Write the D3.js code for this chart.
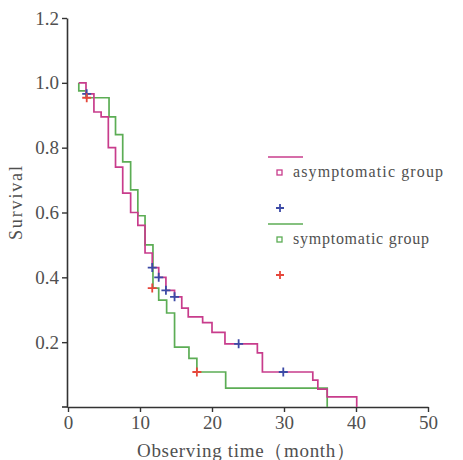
<!DOCTYPE html>
<html>
<head>
<meta charset="utf-8">
<script src="https://cdn.jsdelivr.net/npm/d3@7"></script>
<style>
  body { margin: 0; background: #fff; }
  svg text { font-family: "Liberation Serif", "DejaVu Serif", serif; fill: #505050; }
</style>
</head>
<body>
<svg id="chart" width="463" height="460"></svg>
<script>
// Kaplan-Meier steps (time in months, survival)
const asymTimes = [1.5, 2.5, 3.6, 4.6, 5.6, 6.6, 7.6, 8.7, 9.7, 10.7, 11.7, 12.6, 13.6, 14.8, 15.8, 16.7, 18.7, 20.0, 21.8, 26.3, 27.0, 34.0, 34.7, 36.0, 40.1];
const asymSurv  = [1.0, 0.966, 0.91, 0.895, 0.80, 0.74, 0.66, 0.60, 0.56, 0.475, 0.43, 0.40, 0.36, 0.34, 0.305, 0.278, 0.26, 0.23, 0.195, 0.167, 0.108, 0.083, 0.055, 0.031, 0];
const symTimes  = [1.5, 1.5, 2.5, 5.7, 6.6, 7.6, 8.7, 9.7, 10.7, 11.8, 12.6, 13.7, 14.8, 16.8, 17.9, 21.9, 36.0];
const symSurv   = [1.0, 0.975, 0.954, 0.895, 0.84, 0.756, 0.67, 0.59, 0.50, 0.367, 0.33, 0.29, 0.185, 0.15, 0.108, 0.058, 0];

// censored observations
const asymCensorT = [2.6, 11.7, 12.6, 13.6, 14.8, 23.7, 29.9];
const asymCensorS = [0.966, 0.43, 0.40, 0.36, 0.34, 0.195, 0.108];
const symCensorT  = [2.6, 11.7, 17.9];
const symCensorS  = [0.954, 0.367, 0.108];

const groups = ["asymptomatic group", "symptomatic group"];
const xTicks = [0, 10, 20, 30, 40, 50];
const yTicks = [0.2, 0.4, 0.6, 0.8, 1.0, 1.2];

const lineColor = ["#c83c8c", "#5cad55"];
const censorColor = ["#3c4aa6", "#e6473b"];

const svg = d3.select("#chart");
const x = d3.scaleLinear().domain([0, 50]).range([68, 428]);
const y = d3.scaleLinear().domain([0, 1.2]).range([407, 18]);

// axes
const xAxis = svg.append("g")
    .attr("transform", "translate(0,407)")
    .call(d3.axisBottom(x).tickValues(xTicks).tickSize(5).tickSizeOuter(0).tickPadding(4));
const yAxis = svg.append("g")
    .attr("transform", "translate(67,0)")
    .call(d3.axisLeft(y).tickValues(yTicks).tickFormat(d3.format(".1f")).tickSize(5).tickSizeOuter(0).tickPadding(3));

[xAxis, yAxis].forEach(g => {
    g.select(".domain").attr("stroke", "#333").attr("stroke-width", 1.6);
    g.selectAll(".tick line").attr("stroke", "#333").attr("stroke-width", 1.4);
    g.selectAll(".tick text").attr("font-size", 19).attr("fill", "#505050")
        .style("font-family", "'Liberation Serif', serif");
});
// little stub of the x axis left of the y axis
svg.append("line").attr("x1", 62).attr("x2", 68).attr("y1", 407).attr("y2", 407)
    .attr("stroke", "#333").attr("stroke-width", 1.6);

// axis titles
svg.append("text")
    .attr("transform", "translate(22,203) rotate(-90)")
    .attr("text-anchor", "middle")
    .attr("font-size", 18)
    .attr("textLength", 74)
    .text("Survival");
svg.append("text")
    .attr("x", 246).attr("y", 457)
    .attr("text-anchor", "middle")
    .attr("font-size", 19)
    .attr("textLength", 218)
    .text("Observing time（month）");

// survival curves
const step = d3.line().x(d => x(d[0])).y(d => y(d[1])).curve(d3.curveStepAfter);
const curves = [
    d3.zip(symTimes, symSurv),
    d3.zip(asymTimes, asymSurv)
];
svg.append("g").selectAll("path")
    .data(curves)
    .join("path")
    .attr("fill", "none")
    .attr("stroke", (d, i) => lineColor[1 - i])
    .attr("stroke-width", 1.7)
    .attr("d", step);

// censor marks
const censors = [
    ...d3.zip(asymCensorT, asymCensorS).map(d => [...d, 0]),
    ...d3.zip(symCensorT, symCensorS).map(d => [...d, 1])
];
const plus = "M-4.5,0H4.5M0,-4.5V4.5";
svg.append("g").selectAll("path")
    .data(censors)
    .join("path")
    .attr("transform", d => `translate(${x(d[0])},${y(d[1])})`)
    .attr("d", plus)
    .attr("stroke", d => censorColor[d[2]])
    .attr("stroke-width", 1.8)
    .attr("fill", "none");

// legend
const legend = svg.append("g");
groups.forEach((name, i) => {
    const top = 157 + i * 67;
    legend.append("line")
        .attr("x1", 268).attr("x2", 303).attr("y1", top).attr("y2", top)
        .attr("stroke", lineColor[i]).attr("stroke-width", 1.7);
    legend.append("rect")
        .attr("x", 277).attr("y", top + 13).attr("width", 5).attr("height", 5)
        .attr("fill", "none").attr("stroke", lineColor[i]).attr("stroke-width", 1.3);
    legend.append("text")
        .attr("x", 293).attr("y", top + 20)
        .attr("font-size", 16)
        .attr("textLength", i === 0 ? 150 : 136)
        .text(name);
    legend.append("path")
        .attr("transform", `translate(280,${top + 51})`)
        .attr("d", "M-4,0H4M0,-4V4")
        .attr("stroke", censorColor[i]).attr("stroke-width", 1.8);
});
</script>
</body>
</html>
